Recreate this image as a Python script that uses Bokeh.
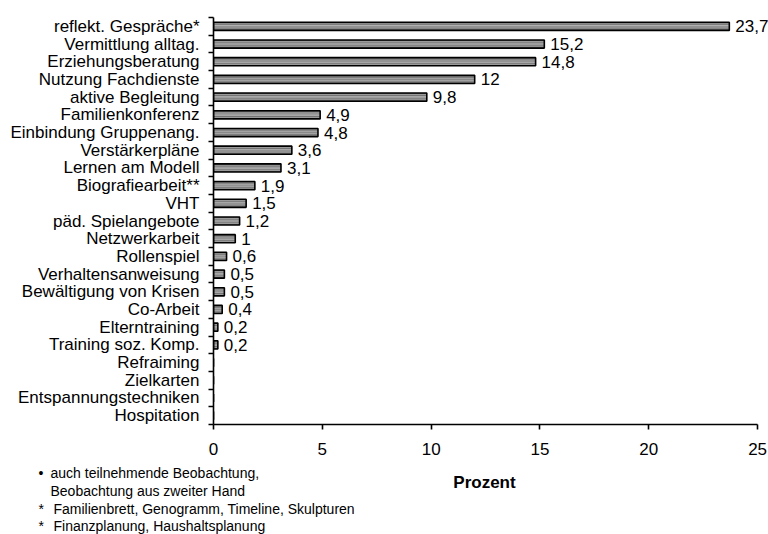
from bokeh.plotting import figure
from bokeh.models import (ColumnDataSource, Range1d, LinearAxis, FixedTicker, LabelSet)
from bokeh.layouts import column
from bokeh.core.properties import value
from bokeh.embed import file_html
from bokeh.resources import INLINE

categories = ["reflekt. Gespräche*", "Vermittlung alltag.", "Erziehungsberatung", "Nutzung Fachdienste",
              "aktive Begleitung", "Familienkonferenz", "Einbindung Gruppenang.", "Verstärkerpläne",
              "Lernen am Modell", "Biografiearbeit**", "VHT", "päd. Spielangebote", "Netzwerkarbeit",
              "Rollenspiel", "Verhaltensanweisung", "Bewältigung von Krisen", "Co-Arbeit", "Elterntraining",
              "Training soz. Komp.", "Refraiming", "Zielkarten", "Entspannungstechniken", "Hospitation"]
values = [23.7, 15.2, 14.8, 12, 9.8, 4.9, 4.8, 3.6, 3.1, 1.9, 1.5, 1.2, 1, 0.6, 0.5, 0.5, 0.4, 0.2, 0.2,
          0, 0, 0, 0]
x_ticks = [0, 5, 10, 15, 20, 25]
x_title = "Prozent"
note_marks = ["•", "", "*", "*"]
note_texts = ["auch teilnehmende Beobachtung,", "Beobachtung aus zweiter Hand",
              "Familienbrett, Genogramm, Timeline, Skulpturen", "Finanzplanung, Haushaltsplanung"]

FONT = "Liberation Sans"
n = len(categories)
pos = [n - i - 0.5 for i in range(n)]          # row centres, first category on top
labels = [(f"{v:g}".replace(".", ",") if v > 0 else "") for v in values]
src = ColumnDataSource(dict(y=pos, val=values, lab=labels))

p = figure(width=768, height=464, output_backend="svg", toolbar_location=None,
           y_range=Range1d(0, n), x_range=Range1d(0, 25.5),
           x_axis_location=None, y_axis_location=None,
           min_border_left=213, min_border_right=0, min_border_top=17, min_border_bottom=40)
p.frame_align = False
p.outline_line_color = None
p.xgrid.visible = False
p.ygrid.visible = False

# bars with banded gray fill
p.hbar(y="y", right="val", left=0, height=0.46, source=src, fill_color="#5a5a5a", line_color=None)
p.hbar(y="y", right="val", left=0, height=0.36, source=src, fill_color="#9a9a9a", line_color=None)
p.hbar(y="y", right="val", left=0, height=0.24, source=src, fill_color="#747474", line_color=None)
p.hbar(y="y", right="val", left=0, height=0.14, source=src, fill_color="#b2b2b2", line_color=None)
p.hbar(y="y", right="val", left=0, height=0.05, source=src, fill_color="#888888", line_color=None)
p.hbar(y="y", right="val", left=0, height=0.46, source=src, fill_alpha=0, line_color="black", line_width=1.6)

p.add_layout(LabelSet(x="val", y="y", text="lab", source=src, x_offset=6, text_baseline="middle",
                      text_font=value(FONT), text_font_size="17px", text_color="black"))

yaxis = LinearAxis(ticker=FixedTicker(ticks=pos, minor_ticks=list(range(n + 1))),
                   major_label_overrides={pv: c for pv, c in zip(pos, categories)},
                   major_tick_out=0, major_tick_in=0, major_tick_line_color=None,
                   minor_tick_out=5, minor_tick_in=0, minor_tick_line_width=1.6, minor_tick_line_color="black",
                   axis_line_color="black", axis_line_width=1.6, major_label_standoff=9,
                   major_label_text_font=FONT, major_label_text_font_size="17px",
                   major_label_text_color="black")
p.add_layout(yaxis, "left")

xaxis = LinearAxis(ticker=FixedTicker(ticks=x_ticks), bounds=(0, 25), major_tick_out=5, major_tick_in=0,
                   minor_tick_out=0, minor_tick_in=0, axis_line_width=1.6, major_tick_line_width=1.6,
                   major_label_standoff=13, major_label_text_font=FONT, major_label_text_font_size="17px",
                   major_label_text_color="black")
p.add_layout(xaxis, "below")

# footer: axis title and footnotes
W2, H2 = 768, 70
p2 = figure(width=W2, height=H2, output_backend="svg", toolbar_location=None,
            x_range=Range1d(0, W2), y_range=Range1d(0, H2), x_axis_location=None, y_axis_location=None,
            min_border=0)
p2.frame_align = False
p2.outline_line_color = None
p2.xgrid.visible = False
p2.ygrid.visible = False

p2.text(x=[484], y=[52], text=[x_title], text_align="center", text_baseline="middle",
        text_font=value(FONT), text_font_size="17px", text_font_style="bold", text_color="black")

note_y = [62, 44, 26, 9]
mark_x = [38 if m else None for m in note_marks]
text_x = [50, 50, 53, 53]
p2.text(x=[mx for mx in mark_x if mx is not None], y=[yy for mx, yy in zip(mark_x, note_y) if mx is not None],
        text=[m for m in note_marks if m], text_baseline="middle",
        text_font=value(FONT), text_font_size="14px", text_color="black")
p2.text(x=text_x, y=note_y, text=note_texts, text_baseline="middle",
        text_font=value(FONT), text_font_size="14px", text_color="black")

open("out.html", "w").write(file_html(column(p, p2, spacing=0), INLINE))
